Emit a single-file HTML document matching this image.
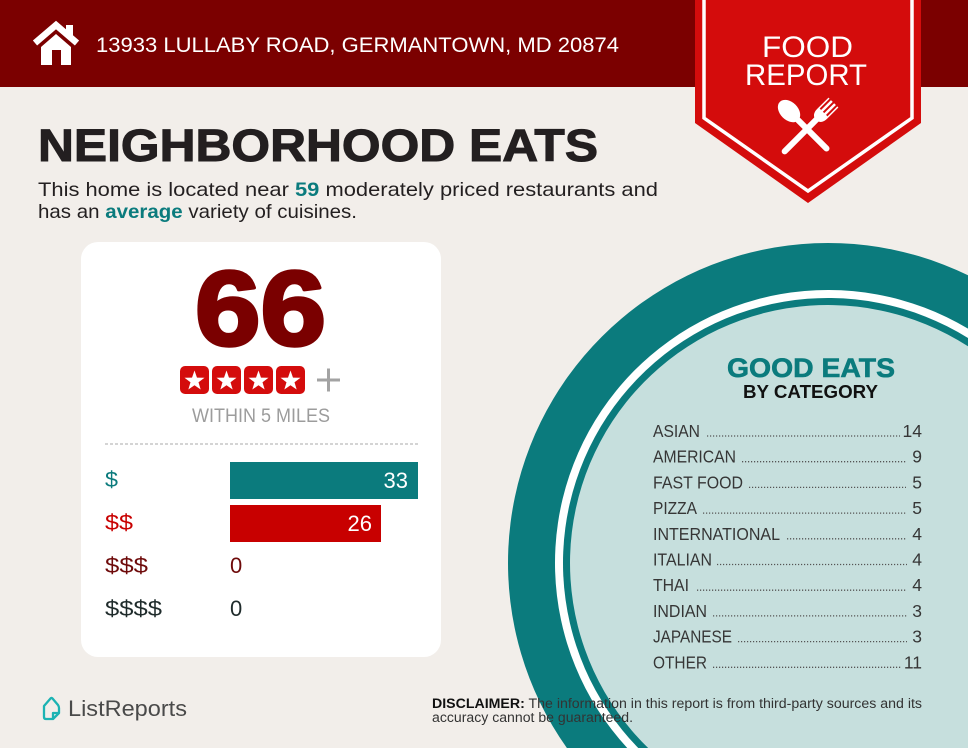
<!DOCTYPE html>
<html>
<head>
<meta charset="utf-8">
<style>
html,body{margin:0;padding:0;background:#f2eeea;width:968px;height:748px;overflow:hidden;}
svg{display:block;overflow:hidden;}
text{font-family:"Liberation Sans",sans-serif;}
</style>
</head>
<body>
<svg width="968" height="748" viewBox="0 0 968 748" xmlns="http://www.w3.org/2000/svg">
  <!-- background -->
  <rect x="0" y="0" width="968" height="748" fill="#f2eeea"/>
  <!-- header band -->
  <rect x="0" y="0" width="968" height="87" fill="#7b0000"/>

  <!-- house icon -->
  <g fill="#ffffff">
    <rect x="66" y="25" width="7" height="12"/>
    <path fill-rule="evenodd" d="M41,47 L56,34 L71,47 L71,65 L41,65 Z M52,50 L61,50 L61,65 L52,65 Z"/>
  </g>
  <polyline points="35,43 56,25 77,43" fill="none" stroke="#ffffff" stroke-width="6.5" stroke-linejoin="miter"/>

  <text x="96" y="52" font-size="21" fill="#ffffff" textLength="523" lengthAdjust="spacingAndGlyphs">13933 LULLABY ROAD, GERMANTOWN, MD 20874</text>

  <!-- ribbon -->
  <polygon points="695,0 921,0 921,123 808,203 695,123" fill="#d40c0c"/>
  <polyline points="704,0 704,118 808,191 912,118 912,0" fill="none" stroke="#ffffff" stroke-width="3.5"/>
  <text x="762" y="57" font-size="30" fill="#ffffff" textLength="91" lengthAdjust="spacingAndGlyphs">FOOD</text>
  <text x="745" y="85" font-size="30" fill="#ffffff" textLength="122" lengthAdjust="spacingAndGlyphs">REPORT</text>

  <!-- spoon -->
  <g transform="translate(806,128) rotate(-45)" fill="#ffffff">
    <ellipse cx="0" cy="-24" rx="9" ry="13"/>
    <rect x="-3" y="-14" width="6" height="46" rx="3"/>
  </g>
  <!-- fork -->
  <g transform="translate(808,128) rotate(45)" fill="#ffffff">
    <rect x="-3" y="-16" width="6" height="52" rx="3"/>
    <path d="M-7,-36 L-7,-20 Q-7,-12 0,-11 Q7,-12 7,-20 L7,-36 L5.5,-36 L5.5,-22 L3.5,-22 L3.5,-36 L1,-36 L1,-22 L-1,-22 L-1,-36 L-3.5,-36 L-3.5,-22 L-5.5,-22 L-5.5,-36 Z"/>
  </g>

  <!-- title -->
  <text x="38" y="161" font-size="45" font-weight="bold" fill="#231f20" stroke="#231f20" stroke-width="1" textLength="560" lengthAdjust="spacingAndGlyphs">NEIGHBORHOOD EATS</text>
  <text x="38" y="196" font-size="19.5" fill="#231f20" textLength="620" lengthAdjust="spacingAndGlyphs">This home is located near <tspan font-weight="bold" fill="#0b7b7d">59</tspan> moderately priced restaurants and</text>
  <text x="38" y="218" font-size="19.5" fill="#231f20" textLength="319" lengthAdjust="spacingAndGlyphs">has an <tspan font-weight="bold" fill="#0b7b7d">average</tspan> variety of cuisines.</text>

  <!-- circle (clipped to frame as paths) -->
  <path d="M968,275.25 A320,320 0 0 0 566.9,748 L968,748 Z" fill="#0b7b7d"/>
  <path d="M968,328.63 A273,273 0 0 0 627.24,748 L968,748 Z" fill="#ffffff"/>
  <path d="M968,338 A265,265 0 0 0 638.26,748 L968,748 Z" fill="#0b7b7d"/>
  <path d="M968,346.29 A258,258 0 0 0 648.17,748 L968,748 Z" fill="#c6dfdd"/>

  <!-- card -->
  <rect x="81" y="242" width="360" height="415" rx="17" fill="#ffffff"/>

  <text x="195" y="345" font-size="106" font-weight="bold" fill="#7a0000" stroke="#7a0000" stroke-width="3.5" stroke-linejoin="round" textLength="131" lengthAdjust="spacingAndGlyphs">66</text>

  <!-- stars -->
  <g fill="#d40c0c">
    <rect x="180" y="366" width="29" height="28" rx="5"/>
    <rect x="212" y="366" width="29" height="28" rx="5"/>
    <rect x="244" y="366" width="29" height="28" rx="5"/>
    <rect x="276" y="366" width="29" height="28" rx="5"/>
  </g>
  <g fill="#ffffff">
    <polygon transform="translate(194.5,381)" points="0,-10.5 2.47,-3.4 9.99,-3.24 4,1.3 6.17,8.49 0,4.2 -6.17,8.49 -4,1.3 -9.99,-3.24 -2.47,-3.4"/>
    <polygon transform="translate(226.5,381)" points="0,-10.5 2.47,-3.4 9.99,-3.24 4,1.3 6.17,8.49 0,4.2 -6.17,8.49 -4,1.3 -9.99,-3.24 -2.47,-3.4"/>
    <polygon transform="translate(258.5,381)" points="0,-10.5 2.47,-3.4 9.99,-3.24 4,1.3 6.17,8.49 0,4.2 -6.17,8.49 -4,1.3 -9.99,-3.24 -2.47,-3.4"/>
    <polygon transform="translate(290.5,381)" points="0,-10.5 2.47,-3.4 9.99,-3.24 4,1.3 6.17,8.49 0,4.2 -6.17,8.49 -4,1.3 -9.99,-3.24 -2.47,-3.4"/>
  </g>
  <g stroke="#a3a3a3" stroke-width="3">
    <line x1="317" y1="380" x2="340" y2="380"/>
    <line x1="328.5" y1="368.5" x2="328.5" y2="391.5"/>
  </g>
  <text x="192" y="422" font-size="19" fill="#9c9c9c" textLength="138" lengthAdjust="spacingAndGlyphs">WITHIN 5 MILES</text>

  <line x1="105" y1="444" x2="418" y2="444" stroke="#a8a8a8" stroke-width="1" stroke-dasharray="3,2"/>

  <!-- price bars -->
  <rect x="230" y="462" width="188" height="37" fill="#0b7b7d"/>
  <rect x="230" y="505" width="151" height="37" fill="#c80000"/>
  <text x="408" y="488" font-size="22" fill="#ffffff" text-anchor="end">33</text>
  <text x="372" y="531" font-size="22" fill="#ffffff" text-anchor="end">26</text>
  <text x="230" y="573" font-size="22" fill="#6e0a0a">0</text>
  <text x="230" y="616" font-size="22" fill="#1f2b2b">0</text>

  <text x="105" y="487" font-size="22" fill="#0b7b7d" textLength="13" lengthAdjust="spacingAndGlyphs">$</text>
  <text x="105" y="530" font-size="22" fill="#c80000" textLength="28" lengthAdjust="spacingAndGlyphs">$$</text>
  <text x="105" y="573" font-size="22" fill="#6e0a0a" textLength="43" lengthAdjust="spacingAndGlyphs">$$$</text>
  <text x="105" y="616" font-size="22" fill="#1f2b2b" textLength="57" lengthAdjust="spacingAndGlyphs">$$$$</text>

  <!-- good eats -->
  <text x="727" y="377" font-size="27" font-weight="bold" fill="#0b7b7d" stroke="#0b7b7d" stroke-width="0.6" textLength="168" lengthAdjust="spacingAndGlyphs">GOOD EATS</text>
  <text x="743" y="398" font-size="18.5" font-weight="bold" fill="#111111" textLength="135" lengthAdjust="spacingAndGlyphs">BY CATEGORY</text>

  <g font-size="17.5" fill="#363636">
    <text x="653" y="437" textLength="47" lengthAdjust="spacingAndGlyphs">ASIAN</text>
    <text x="922" y="437" text-anchor="end">14</text>
    <text x="653" y="462.7" textLength="83" lengthAdjust="spacingAndGlyphs">AMERICAN</text>
    <text x="922" y="462.7" text-anchor="end">9</text>
    <text x="653" y="488.4" textLength="90" lengthAdjust="spacingAndGlyphs">FAST FOOD</text>
    <text x="922" y="488.4" text-anchor="end">5</text>
    <text x="653" y="514.1" textLength="44" lengthAdjust="spacingAndGlyphs">PIZZA</text>
    <text x="922" y="514.1" text-anchor="end">5</text>
    <text x="653" y="539.8" textLength="127" lengthAdjust="spacingAndGlyphs">INTERNATIONAL</text>
    <text x="922" y="539.8" text-anchor="end">4</text>
    <text x="653" y="565.5" textLength="59" lengthAdjust="spacingAndGlyphs">ITALIAN</text>
    <text x="922" y="565.5" text-anchor="end">4</text>
    <text x="653" y="591.2" textLength="36" lengthAdjust="spacingAndGlyphs">THAI</text>
    <text x="922" y="591.2" text-anchor="end">4</text>
    <text x="653" y="616.9" textLength="54" lengthAdjust="spacingAndGlyphs">INDIAN</text>
    <text x="922" y="616.9" text-anchor="end">3</text>
    <text x="653" y="642.6" textLength="79" lengthAdjust="spacingAndGlyphs">JAPANESE</text>
    <text x="922" y="642.6" text-anchor="end">3</text>
    <text x="653" y="668.3" textLength="54" lengthAdjust="spacingAndGlyphs">OTHER</text>
    <text x="922" y="668.3" text-anchor="end">11</text>
  </g>
  <g stroke="#555555" stroke-width="1.3" stroke-dasharray="1.2,1.8">
    <line x1="707" y1="436" x2="900" y2="436"/>
    <line x1="742" y1="461.7" x2="906" y2="461.7"/>
    <line x1="749" y1="487.4" x2="906" y2="487.4"/>
    <line x1="703" y1="513.1" x2="906" y2="513.1"/>
    <line x1="787" y1="538.8" x2="907" y2="538.8"/>
    <line x1="717" y1="564.5" x2="907" y2="564.5"/>
    <line x1="697" y1="590.2" x2="907" y2="590.2"/>
    <line x1="713" y1="615.9" x2="907" y2="615.9"/>
    <line x1="738" y1="641.6" x2="907" y2="641.6"/>
    <line x1="713" y1="667.3" x2="901" y2="667.3"/>
  </g>

  <!-- logo -->
  <path d="M44,706 L50.5,698.5 Q51.5,697.5 52.5,698.5 L58,705 Q59,706.5 59,708 L59,713 L53,719 L46,719 Q44,719 44,717 Z" fill="none" stroke="#1cb3b3" stroke-width="2.3" stroke-linejoin="round"/>
  <path d="M59,713 L53,713 L53,719" fill="none" stroke="#1cb3b3" stroke-width="2.3" stroke-linejoin="round"/>
  <text x="68" y="716" font-size="22" fill="#4a4a4a" textLength="119" lengthAdjust="spacingAndGlyphs">ListReports</text>

  <!-- disclaimer -->
  <text x="432" y="708" font-size="13.5" fill="#333333" textLength="490" lengthAdjust="spacingAndGlyphs"><tspan font-weight="bold" fill="#111111">DISCLAIMER:</tspan> The information in this report is from third-party sources and its</text>
  <text x="432" y="722" font-size="13.5" fill="#333333" textLength="201" lengthAdjust="spacingAndGlyphs">accuracy cannot be guaranteed.</text>
</svg>
</body>
</html>
